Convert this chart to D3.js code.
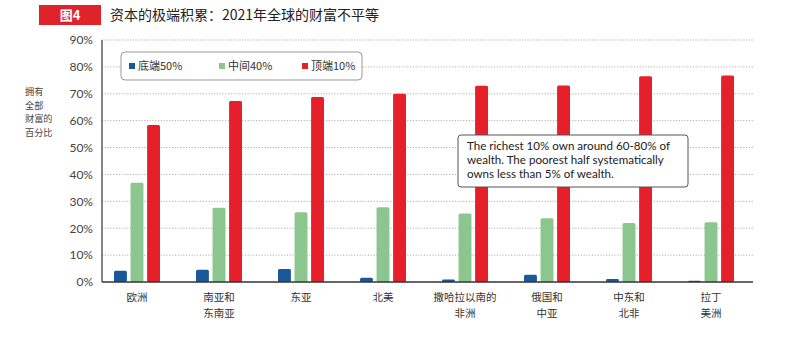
<!DOCTYPE html>
<html>
<head>
<meta charset="utf-8">
<script src="https://cdn.jsdelivr.net/npm/d3@7"></script>
<style>
  html, body { margin: 0; padding: 0; background: #fff; }
  svg { display: block; }
</style>
</head>
<body>
<svg id="chart" width="800" height="344"></svg>
<script>
// Regions (each label may wrap onto two lines)
const regions = [
  ["欧洲"],
  ["南亚和", "东南亚"],
  ["东亚"],
  ["北美"],
  ["撒哈拉以南的", "非洲"],
  ["俄国和", "中亚"],
  ["中东和", "北非"],
  ["拉丁", "美洲"]
];
// Share of total wealth (%) held by each group
const bottom50 = [4.2, 4.6, 4.8, 1.6, 0.9, 2.7, 1.1, 0.5];
const middle40 = [36.9, 27.6, 25.9, 27.8, 25.5, 23.7, 21.9, 22.2];
const top10    = [58.4, 67.3, 68.8, 70.0, 73.0, 73.1, 76.5, 76.8];

const seriesNames = ["底端50%", "中间40%", "顶端10%"];
const seriesColors = ["#1b5897", "#8cc68f", "#e5202a"];
const yTicks = [0, 10, 20, 30, 40, 50, 60, 70, 80, 90];
const yTitle = ["拥有", "全部", "财富的", "百分比"];

const svg = d3.select("#chart");
const font = "Lato, 'Noto Sans CJK SC', sans-serif";
const cjk = "'Noto Sans CJK SC', sans-serif";

// Title strip
svg.append("rect").attr("x", 39).attr("y", 5).attr("width", 62).attr("height", 20).attr("fill", "#e0222b");
svg.append("text").attr("x", 70).attr("y", 20).attr("text-anchor", "middle")
  .attr("font-family", cjk).attr("font-size", 13).attr("font-weight", "bold").attr("fill", "#fff").text("图4");
svg.append("text").attr("x", 110).attr("y", 20)
  .attr("font-family", cjk).attr("font-size", 14).attr("fill", "#222")
  .text("资本的极端积累：2021年全球的财富不平等");

// Scales
const plotLeft = 102, plotRight = 753, plotTop = 40, plotBottom = 282;
const y = d3.scaleLinear().domain([0, 90]).range([plotBottom, plotTop]);
const x0 = d3.scaleBand().domain(d3.range(regions.length)).range([96, 752]);
const x1 = d3.scaleBand().domain(d3.range(3)).range([-23, 23]).paddingInner(0.22);

// Dotted gridlines
svg.append("g").selectAll("line").data(yTicks.filter(t => t > 0)).join("line")
  .attr("x1", plotLeft).attr("x2", plotRight)
  .attr("y1", d => y(d)).attr("y2", d => y(d))
  .attr("stroke", "#9a9a9a").attr("stroke-width", 0.8).attr("stroke-dasharray", "1.2,1.6");

// Y axis labels
const yAxis = d3.axisLeft(y).tickValues(yTicks).tickFormat(d => d + "%").tickSize(0).tickPadding(9);
const yg = svg.append("g").attr("transform", `translate(${plotLeft},0)`).call(yAxis);
yg.select(".domain").remove();
yg.selectAll("text").attr("font-family", font).attr("font-size", 12).attr("fill", "#444");

// Y axis title, stacked lines
svg.append("g").selectAll("text").data(yTitle).join("text")
  .attr("x", 25).attr("y", (d, i) => 95 + i * 13.6)
  .attr("font-family", cjk).attr("font-size", 9.2).attr("fill", "#444").text(d => d);

// Bars
const seriesData = [bottom50, middle40, top10];
const groups = svg.append("g").selectAll("g").data(regions).join("g")
  .attr("transform", (d, i) => `translate(${x0(i) + x0.bandwidth() / 2},0)`);
groups.selectAll("rect").data((d, i) => seriesData.map((s, k) => ({ k, v: s[i] }))).join("rect")
  .attr("x", d => x1(d.k)).attr("width", x1.bandwidth())
  .attr("y", d => y(d.v)).attr("height", d => y(0) - y(d.v))
  .attr("rx", 1.5)
  .attr("fill", d => seriesColors[d.k]);

// Axis lines
svg.append("line").attr("x1", plotLeft).attr("x2", plotLeft).attr("y1", plotTop).attr("y2", plotBottom)
  .attr("stroke", "#333").attr("stroke-width", 1.2);
svg.append("line").attr("x1", plotLeft).attr("x2", plotRight).attr("y1", plotBottom).attr("y2", plotBottom)
  .attr("stroke", "#333").attr("stroke-width", 1.4);

// Category labels
groups.append("text")
  .attr("text-anchor", "middle").attr("font-family", cjk).attr("font-size", 10.5).attr("fill", "#333")
  .selectAll("tspan").data(d => d).join("tspan")
  .attr("x", 0).attr("y", (d, i) => 301 + i * 15.5).text(d => d);

// Legend
const legend = svg.append("g");
legend.append("rect").attr("x", 121).attr("y", 52).attr("width", 241).attr("height", 28).attr("rx", 4)
  .attr("fill", "#fff").attr("stroke", "#999").attr("stroke-width", 1);
const legendX = [129, 219, 302];
const li = legend.selectAll("g").data(seriesNames).join("g")
  .attr("transform", (d, i) => `translate(${legendX[i]},66)`);
li.append("rect").attr("x", 0).attr("y", -3).attr("width", 6).attr("height", 6).attr("fill", (d, i) => seriesColors[i]);
li.append("text").attr("x", 9).attr("y", 4).attr("font-family", cjk).attr("font-size", 11).attr("fill", "#333").text(d => d);

// Annotation
const note = ["The richest 10% own around 60-80% of", "wealth. The poorest half systematically", "owns less than 5% of wealth."];
svg.append("rect").attr("x", 458).attr("y", 135).attr("width", 230).attr("height", 52).attr("rx", 3)
  .attr("fill", "#fff").attr("stroke", "#555").attr("stroke-width", 1);
svg.append("g").selectAll("text").data(note).join("text")
  .attr("x", 467).attr("y", (d, i) => 150 + i * 14)
  .attr("font-family", font).attr("font-size", 11.6).attr("fill", "#222").text(d => d);
</script>
</body>
</html>
